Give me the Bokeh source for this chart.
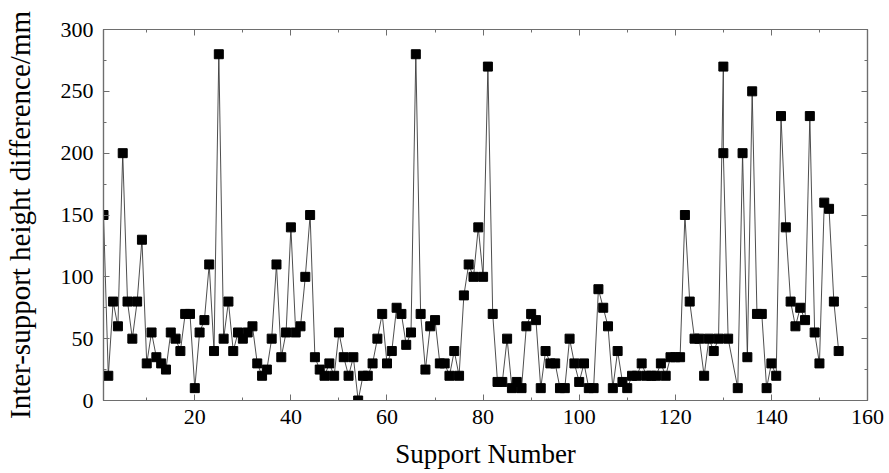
from bokeh.plotting import figure
from bokeh.models import Range1d, LinearAxis, SingleIntervalTicker, CustomJSTickFormatter
from bokeh.embed import file_html
from bokeh.resources import INLINE

# Support numbers (x) and inter-support height differences (y, mm)
support = list(range(1, 131)) + [130, 131] + list(range(133, 155))
height_diff = [
    150, 20, 80, 60, 200, 80, 50, 80, 130, 30,
    55, 35, 30, 25, 55, 50, 40, 70, 70, 10,
    55, 65, 110, 40, 280, 50, 80, 40, 55, 50,
    55, 60, 30, 20, 25, 50, 110, 35, 55, 140,
    55, 60, 100, 150, 35, 25, 20, 30, 20, 55,
    35, 20, 35, 0, 20, 20, 30, 50, 70, 30,
    40, 75, 70, 45, 55, 280, 70, 25, 60, 65,
    30, 30, 20, 40, 20, 85, 110, 100, 140, 100,
    270, 70, 15, 15, 50, 10, 15, 10, 60, 70,
    65, 10, 40, 30, 30, 10, 10, 50, 30, 15,
    30, 10, 10, 90, 75, 60, 10, 40, 15, 10,
    20, 20, 30, 20, 20, 20, 30, 20, 35, 35,
    35, 150, 80, 50, 50, 20, 50, 40, 50, 270,
    200, 50,
    10, 200, 35, 250, 70, 70, 10, 30, 20, 230,
    140, 80, 60, 75, 65, 230, 55, 30, 160, 155, 80, 40,
]

x_label = "Support Number"
y_label = "Inter-support height difference/mm"

FONT = "Liberation Serif"
AXIS_COLOR = "#6e6e6e"

p = figure(
    width=889, height=473,
    output_backend="svg", toolbar_location=None,
    x_range=Range1d(1, 160), y_range=Range1d(0, 300),
    min_border_left=103, min_border_right=22,
    min_border_top=29, min_border_bottom=73,
    x_axis_label=x_label, y_axis_label=y_label,
)
p.grid.visible = False
p.outline_line_color = AXIS_COLOR
p.outline_line_width = 1.2
p.background_fill_color = "white"
p.border_fill_color = "white"

p.line(support, height_diff, line_color="#3a3a3a", line_width=0.9)
p.scatter(support, height_diff, marker="square", size=9,
          fill_color="black", line_color="black")


def style_axis(ax, interval):
    ax.ticker = SingleIntervalTicker(interval=interval, num_minor_ticks=2)
    ax.axis_line_color = AXIS_COLOR
    ax.axis_line_width = 1.2
    ax.major_tick_line_color = AXIS_COLOR
    ax.minor_tick_line_color = AXIS_COLOR
    ax.major_tick_in = 6
    ax.major_tick_out = 0
    ax.minor_tick_in = 3
    ax.minor_tick_out = 0
    ax.major_label_text_font = FONT
    ax.major_label_text_font_size = "22px"
    ax.major_label_text_color = "black"
    ax.axis_label_text_font = FONT
    ax.axis_label_text_font_style = "normal"
    ax.axis_label_text_color = "black"


xa = p.xaxis[0]
style_axis(xa, 20)
xa.major_label_standoff = 9
xa.axis_label_text_font_size = "27px"
xa.axis_label_standoff = 12

ya = p.yaxis[0]
style_axis(ya, 50)
ya.major_label_standoff = 10
ya.axis_label_text_font_size = "29px"
ya.axis_label_standoff = 22

# mirrored axes (ticks only) on top and right
blank = CustomJSTickFormatter(code="return ''")
top = LinearAxis(formatter=blank)
style_axis(top, 20)
top.major_label_text_font_size = "1px"
top.major_label_standoff = 0
p.add_layout(top, "above")

right = LinearAxis(formatter=blank)
style_axis(right, 50)
right.major_label_text_font_size = "1px"
right.major_label_standoff = 0
p.add_layout(right, "right")

open("out.html", "w").write(file_html(p, INLINE))
